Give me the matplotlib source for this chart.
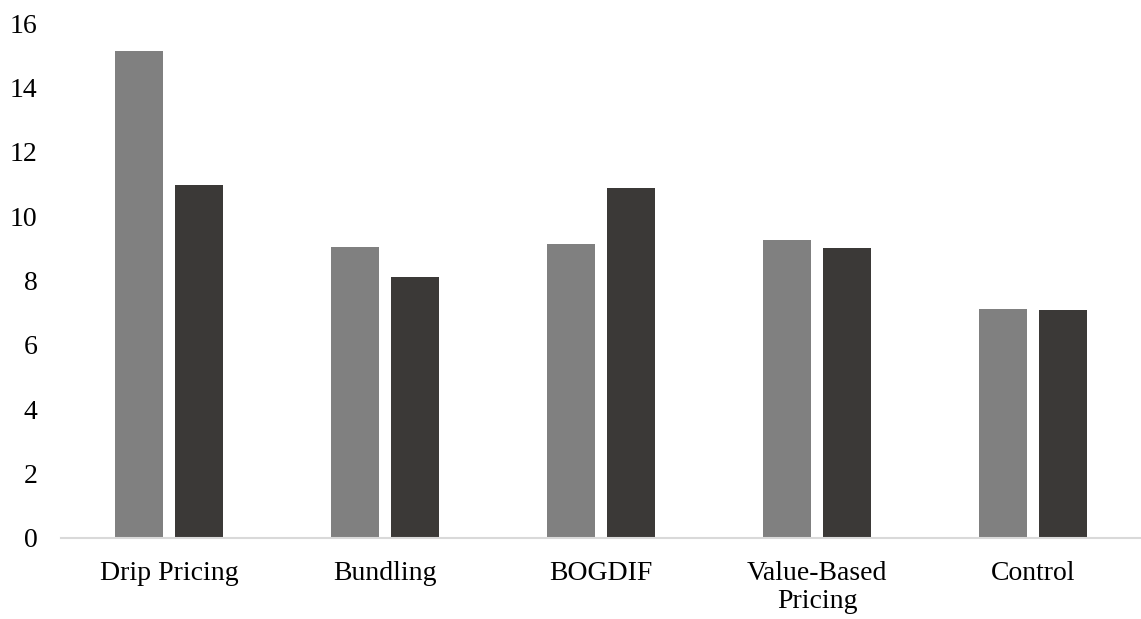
import matplotlib.pyplot as plt
import numpy as np

categories = ["Drip Pricing", "Bundling", "BOGDIF", "Value-Based\nPricing", "Control"]
series_a = [15.13, 9.03, 9.12, 9.25, 7.12]
series_b = [10.96, 8.10, 10.89, 9.02, 7.08]
yticks = [0, 2, 4, 6, 8, 10, 12, 14, 16]

plt.rcParams['font.family'] = ['Liberation Serif', 'DejaVu Serif']

fig = plt.figure(figsize=(11.41, 6.19), dpi=100)
ax = fig.add_axes([61 / 1141, 81.3 / 619, 1080 / 1141, (537.7 - 23.3) / 619])

x = np.arange(len(categories))
w = 0.222
gap = 0.06
ax.bar(x - (w + gap) / 2, series_a, width=w, color="#808080", zorder=2)
ax.bar(x + (w + gap) / 2, series_b, width=w, color="#3b3937", zorder=2)

ax.set_xlim(-0.5, len(categories) - 0.5)
ax.set_ylim(0, 16)
ax.set_yticks(yticks)
ax.set_yticklabels([str(t) for t in yticks])
ax.set_xticks(x)
ax.set_xticklabels(categories, linespacing=1.16)
ax.tick_params(axis="both", length=0, labelsize=20, colors="black")
ax.tick_params(axis="y", pad=17)
ax.tick_params(axis="x", pad=17)

for side in ["top", "right", "left"]:
    ax.spines[side].set_visible(False)
ax.spines["bottom"].set_color("#d9d9d9")
ax.spines["bottom"].set_linewidth(1.5)

fig.savefig("out.png", dpi=100)
